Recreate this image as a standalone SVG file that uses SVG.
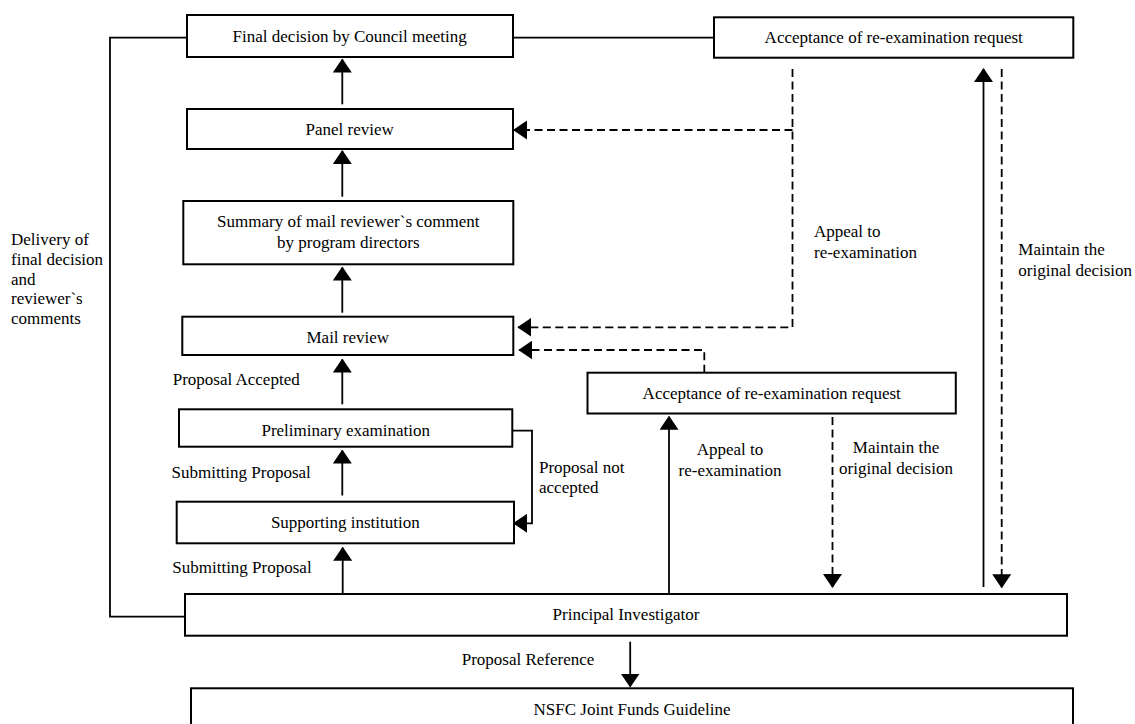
<svg xmlns="http://www.w3.org/2000/svg" width="1135" height="724" viewBox="0 0 1135 724">
<style>
.box{fill:#fff;stroke:#000;stroke-width:2}
.ln{fill:none;stroke:#000;stroke-width:1.8}
.dash{fill:none;stroke:#000;stroke-width:1.8;stroke-dasharray:8 4.5}
text{font-family:"Liberation Serif","Times New Roman",serif;font-size:17px;fill:#000}
.c{text-anchor:middle}
</style>
<defs>
<marker id="ah" markerUnits="userSpaceOnUse" markerWidth="14" markerHeight="19" refX="13" refY="9.5" orient="auto">
<path d="M0,0 L14,9.5 L0,19 z" fill="#000"/>
</marker>
</defs>
<rect width="1135" height="724" fill="#fff"/>
<g id="connectors">
<path class="ln" d="M187,37.7 H110 V616.7 H185"/>
<path class="ln" d="M512.7,37.7 H714"/>
<path class="ln" d="M342.3,104.3 V59.5" marker-end="url(#ah)"/>
<path class="ln" d="M342.3,196.7 V151" marker-end="url(#ah)"/>
<path class="ln" d="M342.3,312.7 V267.5" marker-end="url(#ah)"/>
<path class="ln" d="M342.3,404.3 V359.5" marker-end="url(#ah)"/>
<path class="ln" d="M342.3,495.5 V450.5" marker-end="url(#ah)"/>
<path class="ln" d="M342.7,594 V547.7" marker-end="url(#ah)"/>
<path class="ln" d="M512.3,430.7 H532 V523.3 H514" marker-end="url(#ah)"/>
<path class="dash" d="M792.5,69 V327.3 H518.3" marker-end="url(#ah)"/>
<path class="dash" d="M792.5,130 H514" marker-end="url(#ah)"/>
<path class="dash" d="M704.3,372.7 V350 H519.3" marker-end="url(#ah)"/>
<path class="ln" d="M669,594 V416.7" marker-end="url(#ah)"/>
<path class="dash" d="M832.5,417 V587" marker-end="url(#ah)"/>
<path class="ln" d="M983.5,587 V69" marker-end="url(#ah)"/>
<path class="dash" d="M1001.7,69 V587.3" marker-end="url(#ah)"/>
<path class="ln" d="M630.2,641.7 V686.5" marker-end="url(#ah)"/>
</g>
<g id="final-decision">
<rect class="box" x="187" y="15" width="326" height="42"/>
<text class="c" x="349.7" y="42">Final decision by Council meeting</text>
</g>
<g id="acceptance-top">
<rect class="box" x="714" y="17.3" width="359.3" height="40.4"/>
<text class="c" x="893.7" y="43">Acceptance of re-examination request</text>
</g>
<g id="panel-review">
<rect class="box" x="187" y="109" width="326" height="40"/>
<text class="c" x="349.7" y="135">Panel review</text>
</g>
<g id="summary">
<rect class="box" x="183.3" y="201" width="330" height="63.3"/>
<text class="c" x="348.3" y="227">Summary of mail reviewer`s comment</text>
<text class="c" x="348.3" y="247.5">by program directors</text>
</g>
<g id="mail-review">
<rect class="box" x="182.3" y="316.7" width="331" height="38.3"/>
<text class="c" x="347.8" y="343">Mail review</text>
</g>
<g id="acceptance-mid">
<rect class="box" x="587.5" y="372.7" width="368.3" height="40.8"/>
<text class="c" x="771.7" y="399">Acceptance of re-examination request</text>
</g>
<g id="preliminary">
<rect class="box" x="179" y="409.3" width="333.3" height="37.4"/>
<text class="c" x="345.7" y="436">Preliminary examination</text>
</g>
<g id="supporting">
<rect class="box" x="176.7" y="501.7" width="337.3" height="41.6"/>
<text class="c" x="345.3" y="528.3">Supporting institution</text>
</g>
<g id="principal-investigator">
<rect class="box" x="185" y="594" width="882" height="41.7"/>
<text class="c" x="626" y="620">Principal Investigator</text>
</g>
<g id="nsfc-guideline">
<rect class="box" x="191" y="688.3" width="882" height="50"/>
<text class="c" x="632" y="715">NSFC Joint Funds Guideline</text>
</g>
<g id="labels">
<text x="11" y="245">Delivery of</text>
<text x="11" y="265">final decision</text>
<text x="11" y="284.5">and</text>
<text x="11" y="304">reviewer`s</text>
<text x="11" y="324">comments</text>
<text x="814" y="237.3">Appeal to</text>
<text x="814" y="258.3">re-examination</text>
<text x="1018.3" y="255">Maintain the</text>
<text x="1018.3" y="275.5">original decision</text>
<text x="172.7" y="385">Proposal Accepted</text>
<text x="171.5" y="478.3">Submitting Proposal</text>
<text x="539" y="472.5">Proposal not</text>
<text x="539" y="493">accepted</text>
<text class="c" x="730" y="455">Appeal to</text>
<text class="c" x="730" y="475.5">re-examination</text>
<text class="c" x="896" y="453">Maintain the</text>
<text class="c" x="896" y="473.5">original decision</text>
<text x="172.3" y="573.3">Submitting Proposal</text>
<text x="461.7" y="665">Proposal Reference</text>
</g>
</svg>
